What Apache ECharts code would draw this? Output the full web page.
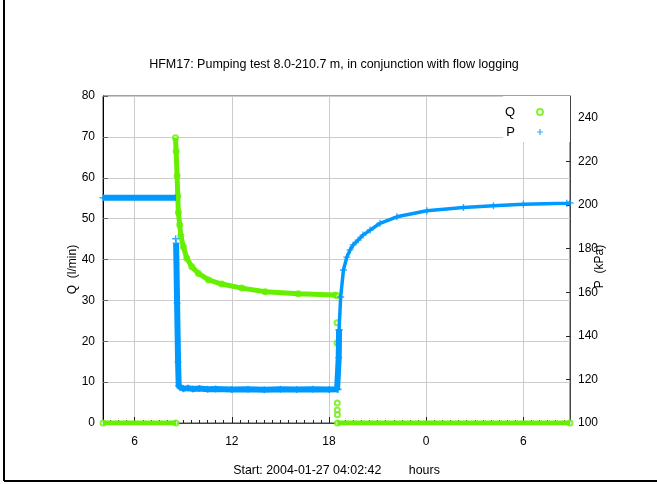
<!DOCTYPE html>
<html>
<head>
<meta charset="utf-8">
<title>HFM17 pumping test</title>
<style>
  html, body { margin: 0; padding: 0; background: #fff; }
  #chart { width: 657px; height: 484px; }
</style>
</head>
<body>
<div id="chart"></div>
<script src="https://cdn.jsdelivr.net/npm/echarts@6/dist/echarts.min.js"></script>
<script>
// x = clock hours counted from midnight 2004-01-27 (start 04:02:42)
var xStart = 4.045;
var xEnd = 32.88;
var hourTicks = [6, 12, 18, 24, 30];

// Q (l/min), left axis
var qBefore = [[4.045, 0], [8.55, 0]];
var qDecay = [[8.52, 69.8], [8.56, 66.5], [8.62, 60.5], [8.66, 55.5], [8.70, 51.5], [8.78, 48.5],
  [8.85, 45.8], [9.01, 43.1], [9.22, 40.3], [9.53, 38.2], [9.94, 36.6], [10.56, 35.0],
  [11.38, 34.0], [12.62, 33.0], [14.06, 32.1], [16.11, 31.6], [18.38, 31.3], [18.48, 31.2]];
var qStopping = [[18.50, 24.5], [18.50, 19.6], [18.51, 4.9], [18.51, 3.2], [18.52, 2.0]];
var qAfter = [[18.52, 0], [32.88, 0]];

// P (kPa), right axis
var pBefore = [[4.045, 203.3], [8.55, 203.3]];
var pPumping = [[8.56, 182.5], [8.62, 155], [8.68, 128], [8.72, 117], [8.80, 116.2], [9.0, 115.7],
  [9.3, 116.0], [9.6, 115.6], [10.0, 115.8], [10.5, 115.5], [11.0, 115.6], [12.0, 115.4],
  [13.0, 115.5], [14.0, 115.3], [15.0, 115.5], [16.0, 115.4], [17.0, 115.5], [18.0, 115.4],
  [18.5, 115.5], [18.56, 115.4], [18.60, 130], [18.62, 142.7]];
var pTip = [[8.53, 184.5]];
var pRecovery = [[18.62, 142.7], [18.72, 157.8], [18.89, 170.2], [19.10, 176.1], [19.30, 179.4],
  [19.49, 181.7], [19.80, 183.9], [20.10, 186.2], [20.54, 188.5], [21.15, 191.6], [22.19, 194.6],
  [24.04, 197.4], [26.30, 198.9], [28.15, 199.7], [30.0, 200.3], [32.68, 200.8], [32.88, 200.9]];

var green = '#66f000';
var blue = '#0099ff';
var plus = 'path://M4,0H6V4H10V6H6V10H4V6H0V4H4Z';
var font = 'Liberation Sans, Arial, sans-serif';

function joinParts(parts) {
  var out = [];
  parts.forEach(function (p, i) {
    if (i > 0) out.push(null);
    out = out.concat(p);
  });
  return out;
}

var halfHours = [];
for (var h = 4.5; h < xEnd; h += 0.5) halfHours.push(h);

var chart = echarts.init(document.getElementById('chart'));
chart.setOption({
  animation: false,
  textStyle: { fontFamily: font },
  title: {
    text: 'HFM17: Pumping test 8.0-210.7 m, in conjunction with flow logging',
    left: 334, top: 58, padding: 0, textAlign: 'center',
    textStyle: { fontSize: 12.5, fontWeight: 'normal', color: '#000', fontFamily: font }
  },
  legend: {
    data: [{ name: 'Q', icon: 'emptyCircle' }, { name: 'P', icon: plus }],
    orient: 'vertical', align: 'right', right: 87, top: 96,
    itemWidth: 40, itemHeight: 6, itemGap: 6,
    padding: [9, 26, 3, 2], backgroundColor: '#fff', selectedMode: false,
    textStyle: { fontSize: 13, color: '#000', lineHeight: 14, fontFamily: font }
  },
  grid: { left: 103, right: 87, top: 96, bottom: 61, show: true, borderColor: '#444', borderWidth: 1 },
  xAxis: [{
    type: 'value', min: xStart, max: xEnd,
    axisLine: { lineStyle: { color: '#444' } },
    axisTick: { inside: true, length: 6, customValues: hourTicks, lineStyle: { color: '#222' } },
    axisLabel: { customValues: hourTicks, margin: 13, fontSize: 12, color: '#000',
      formatter: function (v) { return String(Math.round(v) % 24); } },
    splitLine: { show: true, lineStyle: { color: '#cccccc' } },
    name: 'Start: 2004-01-27 04:02:42        hours', nameLocation: 'middle', nameGap: 42,
    nameMoveOverlap: false,
    nameTextStyle: { fontSize: 12.4, color: '#000' }
  }, {
    type: 'value', min: xStart, max: xEnd, position: 'bottom',
    axisLine: { show: false },
    axisTick: { inside: true, length: 3, customValues: halfHours, lineStyle: { color: '#222' } },
    axisLabel: { show: false }, splitLine: { show: false }
  }],
  yAxis: [{
    type: 'value', min: 0, max: 80, interval: 10,
    axisLine: { show: true, lineStyle: { color: '#000' } },
    axisTick: { inside: true, length: 5, lineStyle: { color: '#666' } },
    axisLabel: { margin: 8, fontSize: 12, color: '#000' },
    splitLine: { show: true, lineStyle: { color: '#cccccc' } },
    name: 'Q  (l/min)', nameLocation: 'middle', nameGap: 24, nameRotate: 90,
    nameMoveOverlap: false,
    nameTextStyle: { fontSize: 12, color: '#000', padding: [0, 20, 0, 0] }
  }, {
    type: 'value', min: 100, max: 250, interval: 20, position: 'right',
    axisLine: { show: true, lineStyle: { color: '#444' } },
    axisTick: { inside: true, length: 4, lineStyle: { color: '#222' } },
    axisLabel: { margin: 8, fontSize: 12, color: '#000', showMaxLabel: false },
    splitLine: { show: false },
    name: 'P  (kPa)', nameLocation: 'middle', nameGap: 24, nameRotate: 90,
    nameMoveOverlap: false,
    nameTextStyle: { fontSize: 12, color: '#000', padding: [0, 14, 0, 0] }
  }],
  series: [{
    name: 'Qband', type: 'line', yAxisIndex: 0, showSymbol: false, symbol: 'none',
    connectNulls: false, lineStyle: { color: green, width: 5 },
    data: joinParts([qBefore, qDecay, qAfter])
  }, {
    name: 'Q', type: 'scatter', yAxisIndex: 0, symbol: 'emptyCircle', symbolSize: 5,
    itemStyle: { color: green, borderColor: green, borderWidth: 1 },
    data: [].concat(qBefore, qDecay, qStopping, qAfter)
  }, {
    name: 'Pband', type: 'line', yAxisIndex: 1, showSymbol: false, symbol: 'none',
    connectNulls: false, lineStyle: { color: blue, width: 6 },
    data: joinParts([pBefore, pPumping])
  }, {
    name: 'Pcurve', type: 'line', yAxisIndex: 1, showSymbol: false, symbol: 'none',
    lineStyle: { color: blue, width: 3.5 },
    data: pRecovery
  }, {
    name: 'P', type: 'scatter', yAxisIndex: 1, symbol: plus, symbolSize: 7,
    itemStyle: { color: blue },
    data: [].concat(pBefore, pTip, pPumping, pRecovery)
  }],
  graphic: [
    { type: 'line', shape: { x1: 4, y1: 0, x2: 4, y2: 481 }, style: { stroke: '#000', lineWidth: 2 } },
    { type: 'line', shape: { x1: 4, y1: 481, x2: 657, y2: 481 }, style: { stroke: '#000', lineWidth: 2 } }
  ]
});
</script>
</body>
</html>
